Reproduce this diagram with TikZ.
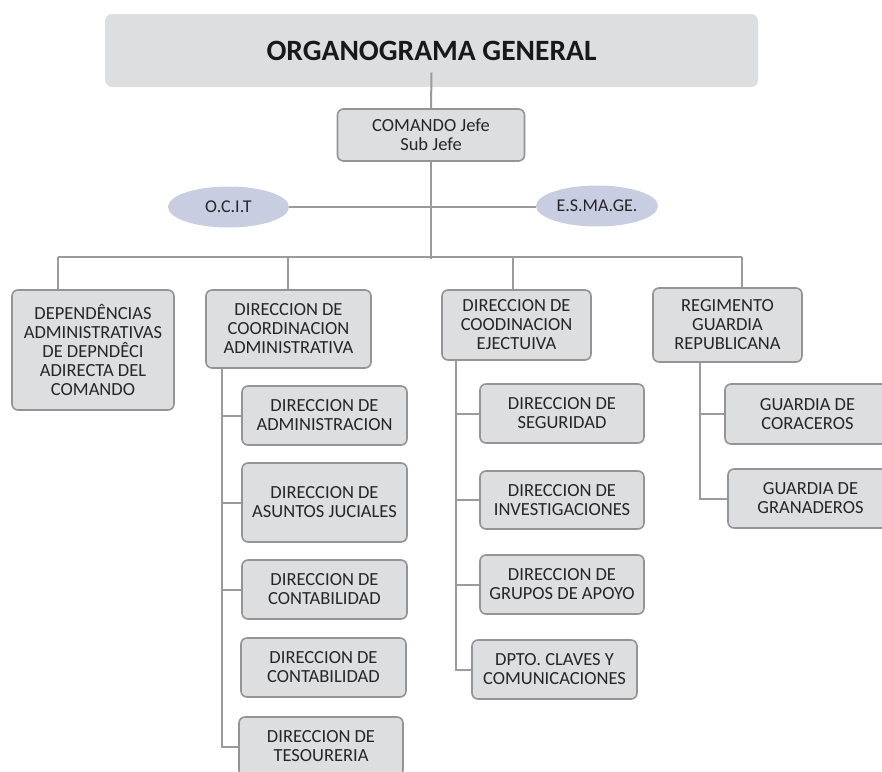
\documentclass[tikz,border=0pt]{standalone}
\usepackage{fontspec}
\setmainfont{Carlito}
\usetikzlibrary{shapes.geometric}
\definecolor{cajagris}{RGB}{221,222,224}
\definecolor{bordegris}{RGB}{148,148,150}
\definecolor{lineagris}{RGB}{155,155,158}
\definecolor{elipse}{RGB}{200,205,226}

\begin{document}
\begin{tikzpicture}[x=1pt,y=-1pt]
    \tikzstyle{caja}=[draw=bordegris,line width=1.6pt,fill=cajagris,rounded corners=6pt,align=center,inner sep=0pt,text=black!85,font=\fontsize{18.5}{19}\selectfont]
    \tikzstyle{titulo}=[fill=cajagris,rounded corners=7pt,inner sep=0pt,text=black!90,font=\fontsize{29.5}{32}\selectfont\bfseries]
    \tikzstyle{ovalo}=[ellipse,fill=elipse,inner sep=0pt,text=black!85,font=\fontsize{18}{19}\selectfont]
    \tikzstyle{linea}=[draw=lineagris,line width=2pt]

\useasboundingbox (0,0) rectangle (882,771);

% Titulo y comando
\node[titulo,minimum width=653,minimum height=73] (T) at (431.5,50.5) {ORGANOGRAMA GENERAL};
\node[caja,minimum width=187,minimum height=52] (C) at (431,135) {COMANDO Jefe\\Sub Jefe};

% Asesores
\node[ovalo,minimum width=121,minimum height=41] (A-1) at (228.5,207) {O.C.I.T};
\node[ovalo,minimum width=122,minimum height=41] (A-2) at (597,206) {E.S.MA.GE.};

% Direcciones
\node[caja,minimum width=162,minimum height=120] (D-1) at (93,350) {DEPENDÊNCIAS\\ADMINISTRATIVAS\\DE DEPNDÊCI\\ADIRECTA DEL\\COMANDO};
\node[caja,minimum width=165,minimum height=78] (D-2) at (288.5,329) {DIRECCION DE\\COORDINACION\\ADMINISTRATIVA};
\node[caja,minimum width=149,minimum height=70] (D-3) at (516.5,325) {DIRECCION DE\\COODINACION\\EJECTUIVA};
\node[caja,minimum width=149,minimum height=74] (D-4) at (727.5,325) {REGIMENTO\\GUARDIA\\REPUBLICANA};

% Coordinacion administrativa
\node[caja,minimum width=165,minimum height=59] (S-1) at (324.5,415.5) {DIRECCION DE\\ADMINISTRACION};
\node[caja,minimum width=165,minimum height=79] (S-2) at (324.5,502.5) {DIRECCION DE\\ASUNTOS JUCIALES};
\node[caja,minimum width=165,minimum height=59] (S-3) at (324.5,589.5) {DIRECCION DE\\CONTABILIDAD};
\node[caja,minimum width=165,minimum height=59] (S-4) at (323.5,667.5) {DIRECCION DE\\CONTABILIDAD};
\node[caja,minimum width=164,minimum height=59] (S-5) at (321,746.5) {DIRECCION DE\\TESOURERIA};

% Coordinacion ejecutiva
\node[caja,minimum width=164,minimum height=59] (E-1) at (562,413.5) {DIRECCION DE\\SEGURIDAD};
\node[caja,minimum width=164,minimum height=58] (E-2) at (562,500) {DIRECCION DE\\INVESTIGACIONES};
\node[caja,minimum width=164,minimum height=59] (E-3) at (562,584.5) {DIRECCION DE\\GRUPOS DE APOYO};
\node[caja,minimum width=165,minimum height=59] (E-4) at (554.5,669.5) {DPTO. CLAVES Y\\COMUNICACIONES};

% Regimento
\node[caja,minimum width=165,minimum height=60] (G-1) at (807.5,414) {GUARDIA DE\\CORACEROS};
\node[caja,minimum width=165,minimum height=59] (G-2) at (810.5,498.5) {GUARDIA DE\\GRANADEROS};

% Lineas principales
\coordinate (B) at (431,259);
\coordinate (B-1) at (58,257);
\coordinate (B-2) at (288,257);
\coordinate (B-3) at (513,257);
\coordinate (B-4) at (742,257);
\draw[linea] ([yshift=-22pt]T.center) -- (C.north);
\draw[linea] (C.south) -- (B);
\draw[linea] (A-1.east) -- (A-1.east -| A-2.west);
\draw[linea] (B-1) -- (B-4);
\draw[linea] (B-1) -- (B-1 |- D-1.north);
\draw[linea] (B-2) -- (B-2 |- D-2.north);
\draw[linea] (B-3) -- (B-3 |- D-3.north);
\draw[linea] (B-4) -- (B-4 |- D-4.north);

% Ramas
\coordinate (R-2) at (222,0);
\coordinate (R-3) at (456,0);
\coordinate (R-4) at (700,0);
\draw[linea] (D-2.south -| R-2) |- (S-5.west);
\draw[linea] (D-2.south -| R-2) |- (S-1.west);
\draw[linea] (D-2.south -| R-2) |- (S-2.west);
\draw[linea] (D-2.south -| R-2) |- (S-3.west);

\draw[linea] (D-3.south -| R-3) |- (E-4.west);
\draw[linea] (D-3.south -| R-3) |- (E-1.west);
\draw[linea] (D-3.south -| R-3) |- (E-2.west);
\draw[linea] (D-3.south -| R-3) |- (E-3.west);

\draw[linea] (D-4.south -| R-4) |- (G-2.west);
\draw[linea] (D-4.south -| R-4) |- (G-1.west);

\end{tikzpicture}
\end{document}
